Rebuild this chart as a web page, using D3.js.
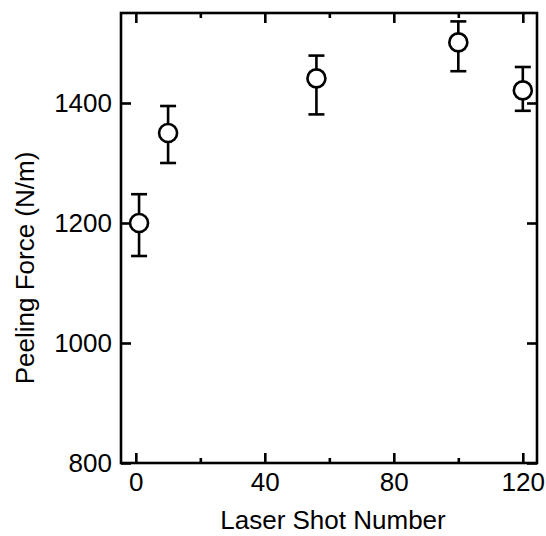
<!DOCTYPE html>
<html>
<head>
<meta charset="utf-8">
<script src="https://cdn.jsdelivr.net/npm/d3@7"></script>
<style>
  body { margin: 0; background: #fff; }
  text { font-family: "Liberation Sans", Arial, sans-serif; fill: #000; }
</style>
</head>
<body>
<svg id="chart"></svg>
<script>
// data
const shots = [1, 10, 56, 100, 120];
const force = [1200, 1350, 1441, 1501, 1421];
const errHigh = [1248, 1395, 1479, 1536, 1460];
const errLow = [1145, 1300, 1381, 1453, 1387];

const xMajor = [0, 40, 80, 120];
const xMinor = [20, 60, 100];
const yMajor = [800, 1000, 1200, 1400];

const width = 546, height = 536;
const margin = {top: 13, right: 9, bottom: 73, left: 121};
const fontSize = "26px";

const svg = d3.select("#chart")
  .attr("width", width)
  .attr("height", height);

const x = d3.scaleLinear()
  .domain([-4.6, 124.4])
  .range([margin.left, width - margin.right]);
const y = d3.scaleLinear()
  .domain([800, 1550])
  .range([height - margin.bottom, margin.top]);

const ink = "#000", sw = 2.6;

// ticks inward on all four sides
svg.append("g")
  .attr("transform", `translate(0,${height - margin.bottom})`)
  .call(d3.axisBottom(x).tickValues(xMajor).tickSize(-10).tickPadding(10).tickFormat(d3.format("d")));
svg.append("g")
  .attr("transform", `translate(0,${margin.top})`)
  .call(d3.axisTop(x).tickValues(xMajor).tickSize(-10).tickFormat(""));
svg.append("g")
  .attr("transform", `translate(0,${height - margin.bottom})`)
  .call(d3.axisBottom(x).tickValues(xMinor).tickSize(-5).tickFormat(""));
svg.append("g")
  .attr("transform", `translate(0,${margin.top})`)
  .call(d3.axisTop(x).tickValues(xMinor).tickSize(-5).tickFormat(""));
svg.append("g")
  .attr("transform", `translate(${margin.left},0)`)
  .call(d3.axisLeft(y).tickValues(yMajor).tickSize(-10).tickPadding(9).tickFormat(d3.format("d")));
svg.append("g")
  .attr("transform", `translate(${width - margin.right},0)`)
  .call(d3.axisRight(y).tickValues(yMajor).tickSize(-10).tickFormat(""));

svg.selectAll(".domain").remove();
svg.selectAll(".tick line").attr("stroke", ink).attr("stroke-width", sw);
svg.selectAll(".tick text").style("font-size", fontSize).attr("fill", ink);

// frame
svg.append("rect")
  .attr("x", margin.left)
  .attr("y", margin.top)
  .attr("width", width - margin.left - margin.right)
  .attr("height", height - margin.top - margin.bottom)
  .attr("fill", "none")
  .attr("stroke", ink)
  .attr("stroke-width", sw);

// error bars
const pts = shots.map((s, i) => ({s, f: force[i], hi: errHigh[i], lo: errLow[i]}));
const bars = svg.append("g").attr("stroke", ink).attr("stroke-width", sw);
bars.selectAll("line.v")
  .data(pts)
  .join("line")
    .attr("class", "v")
    .attr("x1", d => x(d.s)).attr("x2", d => x(d.s))
    .attr("y1", d => y(d.hi)).attr("y2", d => y(d.lo));
bars.selectAll("line.cap")
  .data(pts.flatMap(d => [{s: d.s, v: d.hi}, {s: d.s, v: d.lo}]))
  .join("line")
    .attr("class", "cap")
    .attr("x1", d => x(d.s) - 8).attr("x2", d => x(d.s) + 8)
    .attr("y1", d => y(d.v)).attr("y2", d => y(d.v));

// open circle markers
svg.append("g")
  .selectAll("circle")
  .data(pts)
  .join("circle")
    .attr("cx", d => x(d.s))
    .attr("cy", d => y(d.f))
    .attr("r", 9)
    .attr("fill", "#fff")
    .attr("stroke", ink)
    .attr("stroke-width", sw);

// axis titles
svg.append("text")
  .attr("x", 333)
  .attr("y", 529)
  .attr("text-anchor", "middle")
  .style("font-size", fontSize)
  .text("Laser Shot Number");
svg.append("text")
  .attr("transform", "translate(34,268) rotate(-90)")
  .attr("text-anchor", "middle")
  .style("font-size", fontSize)
  .text("Peeling Force (N/m)");
</script>
</body>
</html>
